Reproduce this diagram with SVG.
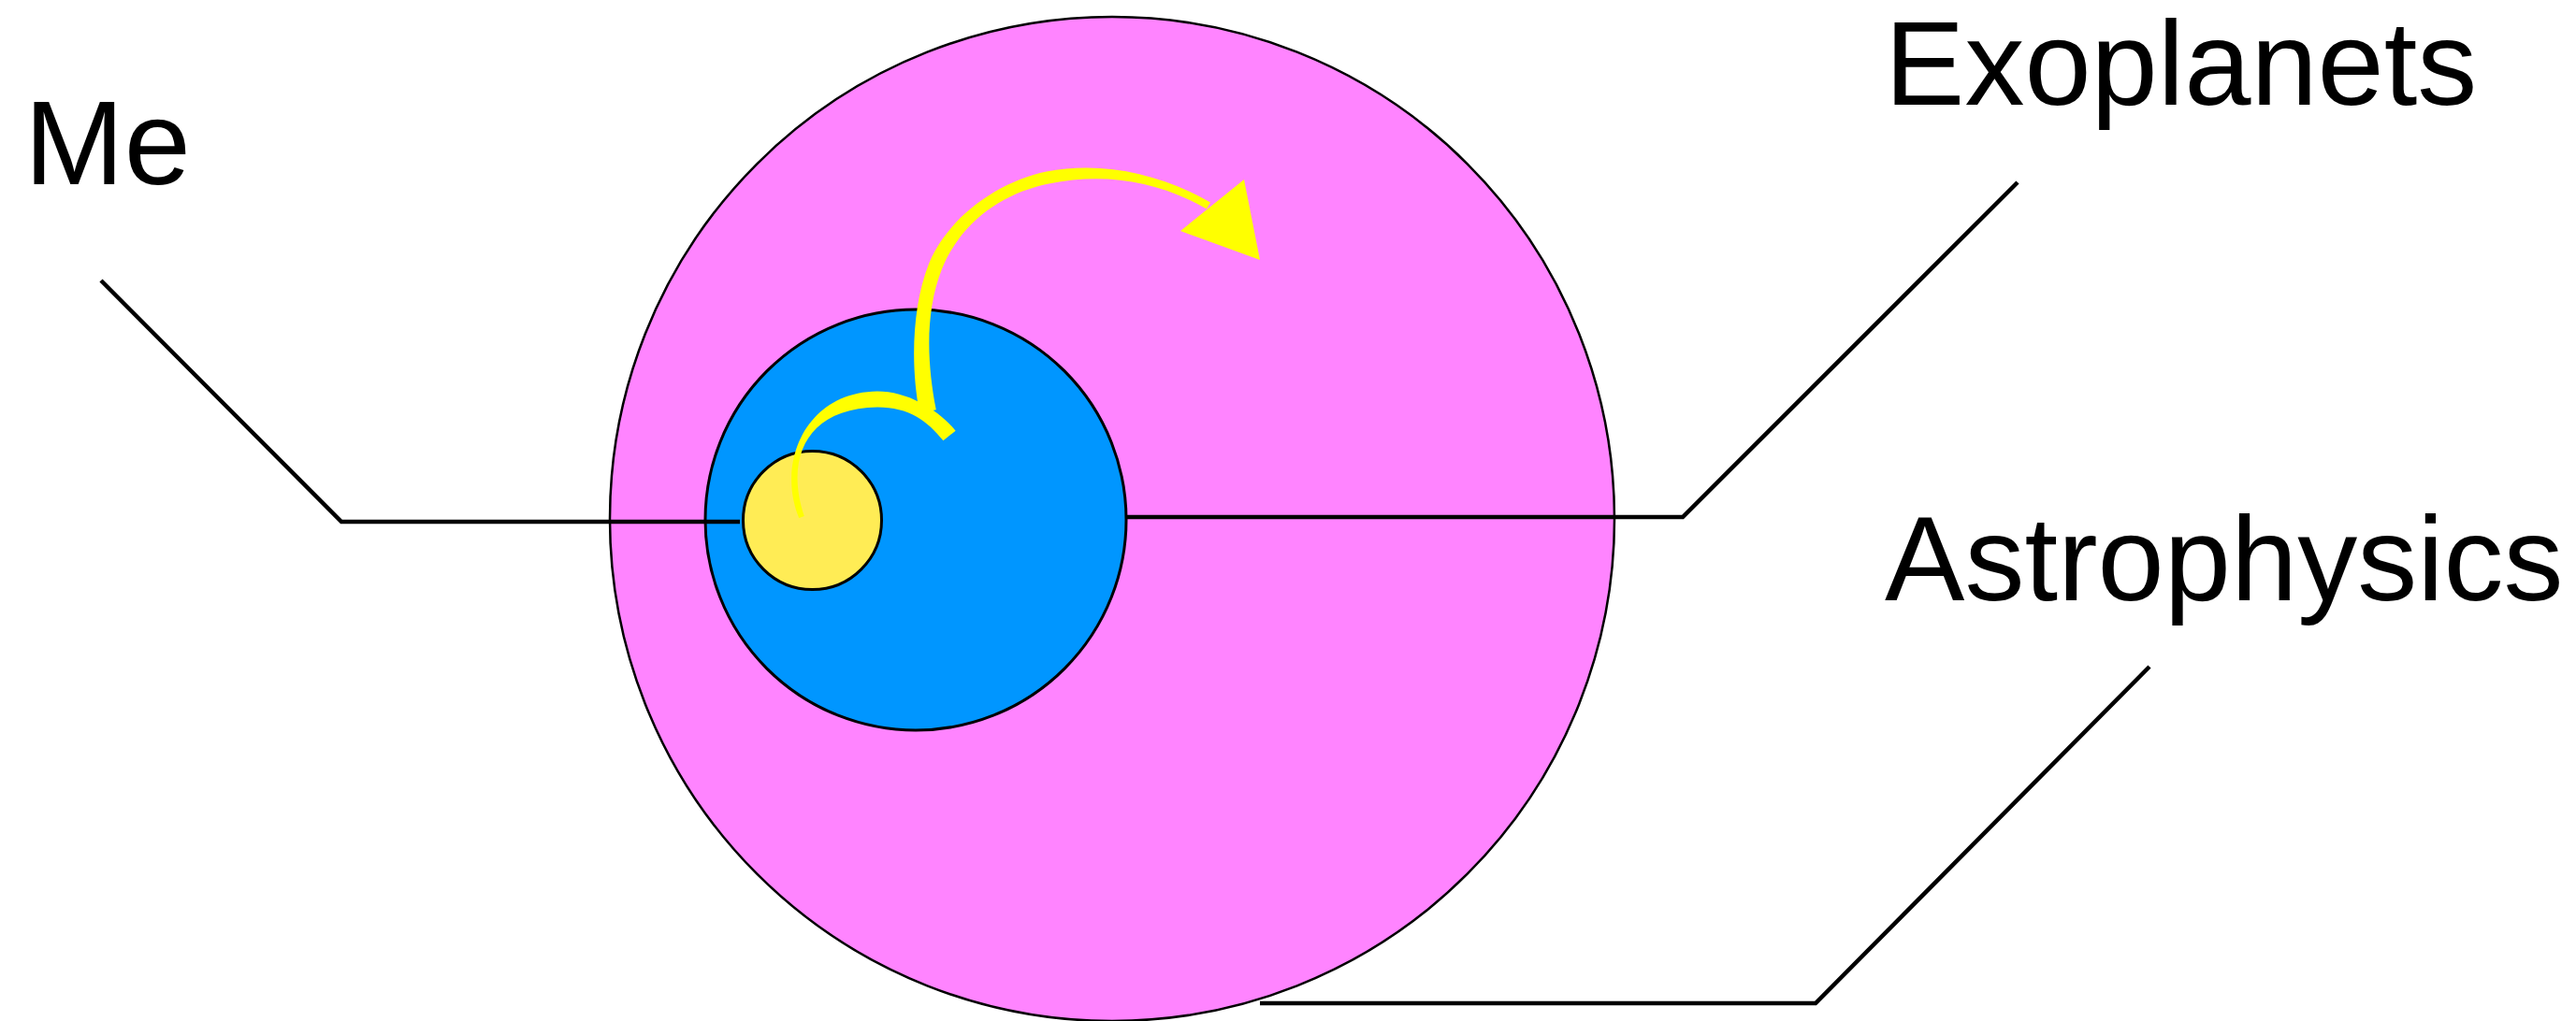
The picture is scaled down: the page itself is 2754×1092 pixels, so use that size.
<svg xmlns="http://www.w3.org/2000/svg" width="2754" height="1092" viewBox="0 0 2754 1092">
<style>
.lbl{font-family:"Liberation Sans",Arial,sans-serif;font-size:128px;fill:#000}
.conn{fill:none;stroke:#000;stroke-width:4.5;stroke-linejoin:miter}
.ring{stroke:#000}
.arw{fill:#FFFF00;stroke:none}
</style>
<rect width="2754" height="1092" fill="#fff"/>
<g id="astrophysics-circle"><circle class="ring" cx="1189" cy="555" r="537" fill="#FF84FF" stroke-width="2.5"/></g>
<g id="exoplanets-circle"><circle class="ring" cx="979" cy="556" r="225" fill="#0096FF" stroke-width="3"/></g>
<g id="me-circle"><circle class="ring" cx="868.5" cy="556.5" r="74" fill="#FFEC55" stroke-width="3"/></g>
<g id="arrows">
<path class="arw" d="M854.2,554.1 C830.3,496.8 859.9,419.5 937.9,418.5 C971.9,418.5 1004.6,439.7 1021.6,460.7 L1008.4,471.3 C991.4,450.3 972.1,435.5 938.1,435.5 C860.1,436.5 839.7,493.2 859.8,551.9 Z"/>
<path class="arw" d="M983.2,441.8 C973.2,391.8 975,327.2 993,282.2 C1013,232.2 1068.7,193.6 1118.7,183.6 C1178.7,171.6 1242,186.5 1294,216.5 L1290,223.5 C1238,193.5 1181.3,184.4 1121.3,196.4 C1071.3,206.4 1027,237.8 1007,287.8 C989,332.8 990.8,388.2 1000.8,438.2 Z"/>
<polygon class="arw" points="1330,192 1347,278 1262,247"/>
</g>
<g id="connectors">
<polyline class="conn" points="108,300 365,558 791,558"/>
<polyline class="conn" points="2157,195 1799,553 1204,553"/>
<polyline class="conn" points="2298,713 1941,1073 1347,1073"/>
</g>
<g id="label-me"><text class="lbl" x="26" y="197">Me</text></g>
<g id="label-exoplanets"><text class="lbl" x="2015" y="112">Exoplanets</text></g>
<g id="label-astrophysics"><text class="lbl" x="2015" y="642">Astrophysics</text></g>
</svg>
